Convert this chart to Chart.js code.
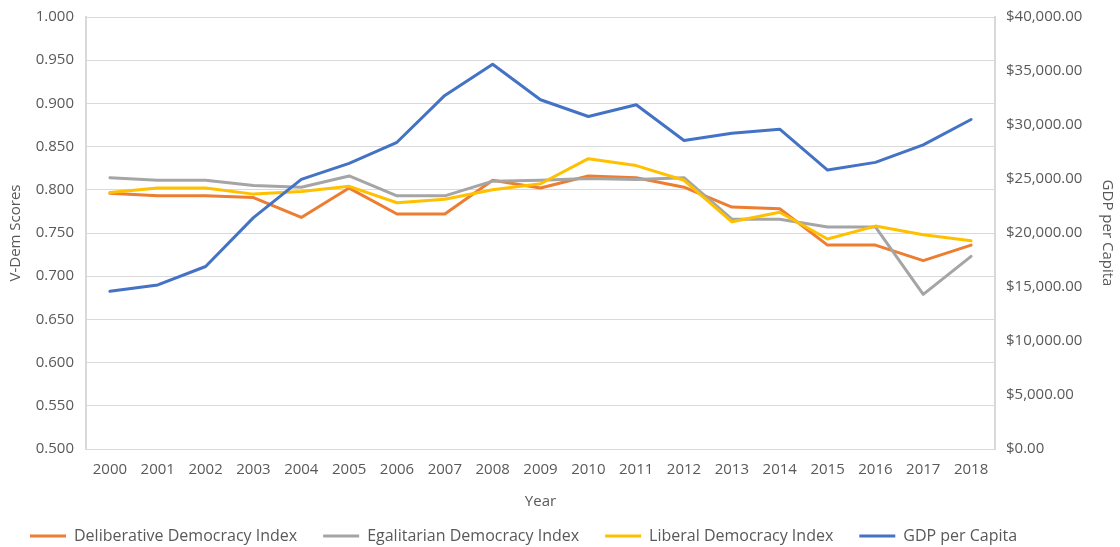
<!DOCTYPE html>
<html>
<head>
<meta charset="utf-8">
<script src="https://cdn.jsdelivr.net/npm/chart.js@4.4.1/dist/chart.umd.min.js"></script>
<style>
  html, body { margin: 0; padding: 0; background: #ffffff; }
  #wrap { width: 1120px; height: 547px; position: relative; }
</style>
</head>
<body>
<div id="wrap"><canvas id="chart" width="1120" height="547"></canvas></div>
<script>
// Years on the category axis
const years = ['2000','2001','2002','2003','2004','2005','2006','2007','2008','2009',
               '2010','2011','2012','2013','2014','2015','2016','2017','2018'];

// V-Dem index scores (left axis)
const deliberative = [0.796, 0.793, 0.793, 0.791, 0.768, 0.802, 0.772, 0.772, 0.811, 0.802,
                      0.816, 0.814, 0.803, 0.780, 0.778, 0.736, 0.736, 0.718, 0.736];
const egalitarian  = [0.814, 0.811, 0.811, 0.805, 0.803, 0.816, 0.793, 0.793, 0.810, 0.811,
                      0.813, 0.812, 0.814, 0.766, 0.766, 0.757, 0.757, 0.679, 0.723];
const liberal      = [0.797, 0.802, 0.802, 0.795, 0.798, 0.804, 0.785, 0.789, 0.800, 0.807,
                      0.836, 0.828, 0.811, 0.763, 0.774, 0.743, 0.758, 0.748, 0.741];

// GDP per capita in US dollars (right axis)
const gdpPerCapita = [14600, 15190, 16900, 21420, 24960, 26450, 28400, 32740, 35630, 32340,
                      30790, 31880, 28560, 29240, 29610, 25830, 26540, 28160, 30510];

const FONT = '"Open Sans", "Noto Sans", sans-serif';
const TEXT = '#595959';
const GRID = '#d9d9d9';

const mkLine = (label, data, color, axis, order) => ({
  label, data, yAxisID: axis, order,
  borderColor: color, backgroundColor: color,
  borderWidth: 3, pointRadius: 0, pointHoverRadius: 0,
  tension: 0, fill: false, borderJoinStyle: 'round', borderCapStyle: 'round'
});

// vertical axes: fixed width, no extra overhang padding at top/bottom
const fitVertical = (w) => (s) => { s.width = w; s.paddingTop = 0; s.paddingBottom = 0; };

new Chart(document.getElementById('chart'), {
  type: 'line',
  data: {
    labels: years,
    datasets: [
      mkLine('Deliberative Democracy Index', deliberative, '#ed7d31', 'y', 4),
      mkLine('Egalitarian Democracy Index', egalitarian, '#a5a5a5', 'y', 3),
      mkLine('Liberal Democracy Index', liberal, '#ffc000', 'y', 2),
      mkLine('GDP per Capita', gdpPerCapita, '#4472c4', 'y1', 1)
    ]
  },
  options: {
    responsive: false,
    animation: false,
    layout: { padding: { top: 17, right: 4, left: 4, bottom: -7 } },
    plugins: {
      tooltip: { enabled: false },
      legend: {
        position: 'bottom',
        align: 'start',
        labels: {
          font: { family: FONT, size: 16 },
          color: TEXT,
          boxWidth: 36,
          boxHeight: 3,
          padding: 26,
          sort: (a, b) => a.datasetIndex - b.datasetIndex,
          generateLabels: (chart) =>
            Chart.defaults.plugins.legend.labels.generateLabels(chart)
              .map(l => Object.assign(l, { lineWidth: 0 }))
        }
      }
    },
    scales: {
      x: {
        offset: true,
        grid: { display: false, drawTicks: false },
        border: { display: true, color: GRID, width: 1 },
        ticks: { color: TEXT, font: { family: FONT, size: 15 }, padding: 12, maxRotation: 0, autoSkip: false },
        title: { display: true, text: 'Year', color: TEXT, font: { family: FONT, size: 15 }, padding: { top: 0, bottom: -9 } },
        afterFit: s => { s.height = 53; s.paddingLeft = 0; s.paddingRight = 0; }
      },
      y: {
        position: 'left',
        min: 0.5, max: 1.0,
        grid: { color: GRID, lineWidth: 1, drawTicks: false },
        border: { display: true, color: GRID, width: 2 },
        ticks: {
          stepSize: 0.05, color: TEXT, font: { family: FONT, size: 15 }, padding: 12,
          callback: v => v.toFixed(3)
        },
        title: { display: true, text: 'V-Dem Scores', color: TEXT, font: { family: FONT, size: 15 }, padding: { top: 3, bottom: 4 } },
        afterFit: fitVertical(82)
      },
      y1: {
        position: 'right',
        min: 0, max: 40000,
        grid: { display: false, drawTicks: false },
        border: { display: true, color: GRID, width: 2 },
        ticks: {
          stepSize: 5000, color: TEXT, font: { family: FONT, size: 15 }, padding: 11,
          callback: v => '$' + v.toLocaleString('en-US', { minimumFractionDigits: 2, maximumFractionDigits: 2 })
        },
        title: { display: true, text: 'GDP per Capita', color: TEXT, font: { family: FONT, size: 15 }, padding: { top: 0, bottom: 4 } },
        afterFit: fitVertical(121)
      }
    }
  }
});
</script>
</body>
</html>
